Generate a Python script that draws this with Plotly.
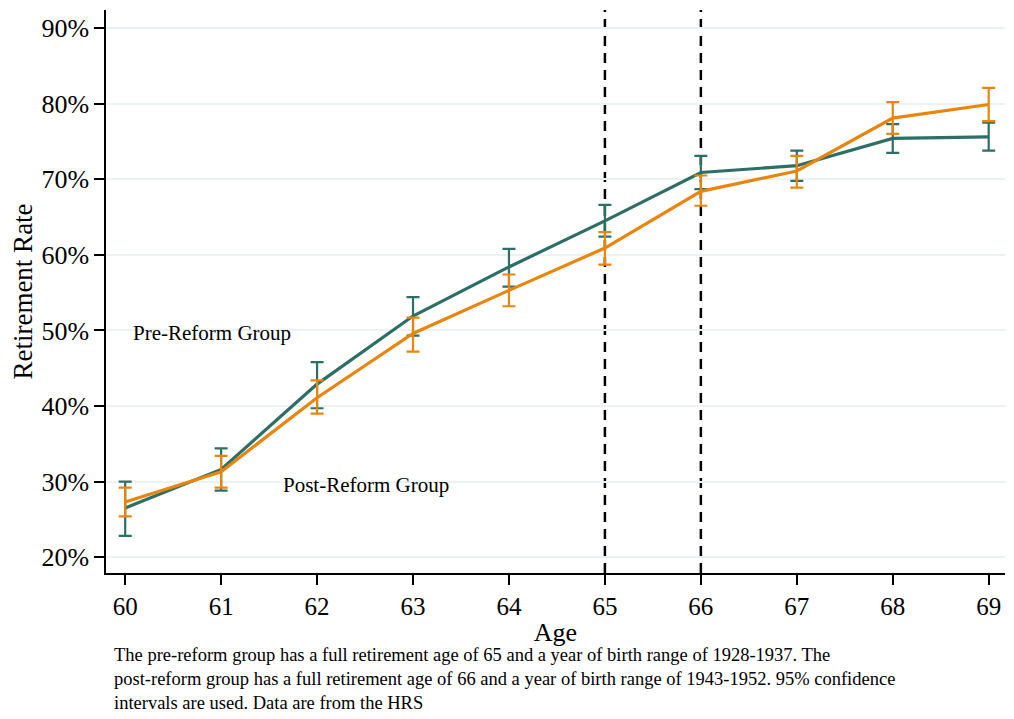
import plotly.graph_objects as go

ages = [60, 61, 62, 63, 64, 65, 66, 67, 68, 69]

pre_mean = [26.5, 31.6, 42.9, 51.9, 58.4, 64.5, 70.9, 71.8, 75.4, 75.6]
pre_lo = [22.8, 28.8, 39.7, 49.3, 55.8, 62.4, 68.7, 69.8, 73.5, 73.8]
pre_hi = [30.0, 34.4, 45.8, 54.4, 60.8, 66.6, 73.1, 73.8, 77.3, 77.5]

post_mean = [27.3, 31.3, 41.1, 49.6, 55.3, 60.9, 68.4, 71.1, 78.1, 79.9]
post_lo = [25.4, 29.2, 39.0, 47.2, 53.2, 58.7, 66.5, 68.9, 76.0, 77.7]
post_hi = [29.2, 33.4, 43.4, 51.7, 57.4, 63.0, 70.5, 73.1, 80.2, 82.1]

y_ticks = [20, 30, 40, 50, 60, 70, 80, 90]
y_ticktext = ["20%", "30%", "40%", "50%", "60%", "70%", "80%", "90%"]
fra_ages = [65, 66]

note_lines = [
    "The pre-reform group has a full retirement age of 65 and a year of birth range of 1928-1937. The",
    "post-reform group has a full retirement age of 66 and a year of birth range of 1943-1952. 95% confidence",
    "intervals are used. Data are from the HRS",
]

TEAL = "#2E6E65"
ORANGE = "#E8850C"
FONT = "Liberation Serif"

# the page places the figure 8px in from the top-left corner
OFF = 8
W, H = 1014, 719
ML, MR, MT, MB = 106 - OFF, 9 + OFF, 10 - OFF, 146 + OFF
PW, PH = W - ML - MR, H - MT - MB


def trace(mean, lo, hi, color, name):
    return go.Scatter(
        x=ages, y=mean, mode="lines", name=name,
        line=dict(color=color, width=3.2),
        error_y=dict(
            type="data", symmetric=False,
            array=[h - m for h, m in zip(hi, mean)],
            arrayminus=[m - l for m, l in zip(mean, lo)],
            color=color, thickness=2.2, width=6.5,
        ),
        showlegend=False,
    )


fig = go.Figure()
fig.add_trace(trace(pre_mean, pre_lo, pre_hi, TEAL, "Pre-Reform Group"))
fig.add_trace(trace(post_mean, post_lo, post_hi, ORANGE, "Post-Reform Group"))

for a in fra_ages:
    fig.add_shape(type="line", xref="x", yref="paper", x0=a, x1=a, y0=0, y1=1,
                  line=dict(color="black", width=2.5, dash="10px,7px"), layer="between")

fig.add_annotation(x=60.06, y=49.7, xref="x", yref="y", text="Pre-Reform Group",
                   showarrow=False, xanchor="left", yanchor="middle",
                   font=dict(family=FONT, size=21, color="black"))
fig.add_annotation(x=61.62, y=29.6, xref="x", yref="y", text="Post-Reform Group",
                   showarrow=False, xanchor="left", yanchor="middle",
                   font=dict(family=FONT, size=21, color="black"))

fig.add_annotation(x=(112 - OFF - ML) / PW, y=(H - MB - (679 - OFF)) / PH,
                   xref="paper", yref="paper", text="<br>".join(note_lines),
                   showarrow=False, xanchor="left", yanchor="middle", align="left",
                   font=dict(family=FONT, size=18.5, color="black"))

fig.update_layout(
    width=W, height=H,
    margin=dict(l=ML, r=MR, t=MT, b=MB),
    paper_bgcolor="white", plot_bgcolor="white",
    font=dict(family=FONT, color="black"),
    xaxis=dict(
        range=[59.8, 69.17], tickmode="array", tickvals=ages,
        ticks="outside", ticklen=10, tickwidth=1.5, tickcolor="black",
        showline=True, linecolor="black", linewidth=1.5,
        showgrid=False, zeroline=False, automargin=False,
        tickfont=dict(family=FONT, size=25, color="black"),
        title=dict(text="Age", font=dict(family=FONT, size=26, color="black"), standoff=4),
    ),
    yaxis=dict(
        range=[17.9, 92.4], tickmode="array", tickvals=y_ticks, ticktext=y_ticktext,
        ticks="outside", ticklen=10, tickwidth=1.5, tickcolor="black",
        showline=True, linecolor="black", linewidth=1.5,
        showgrid=True, gridcolor="#EAF2F3", gridwidth=2, zeroline=False, automargin=False,
        tickfont=dict(family=FONT, size=26, color="black"),
        title=dict(text="Retirement Rate", font=dict(family=FONT, size=27, color="black"), standoff=4),
    ),
)

fig.write_html("out.html")
